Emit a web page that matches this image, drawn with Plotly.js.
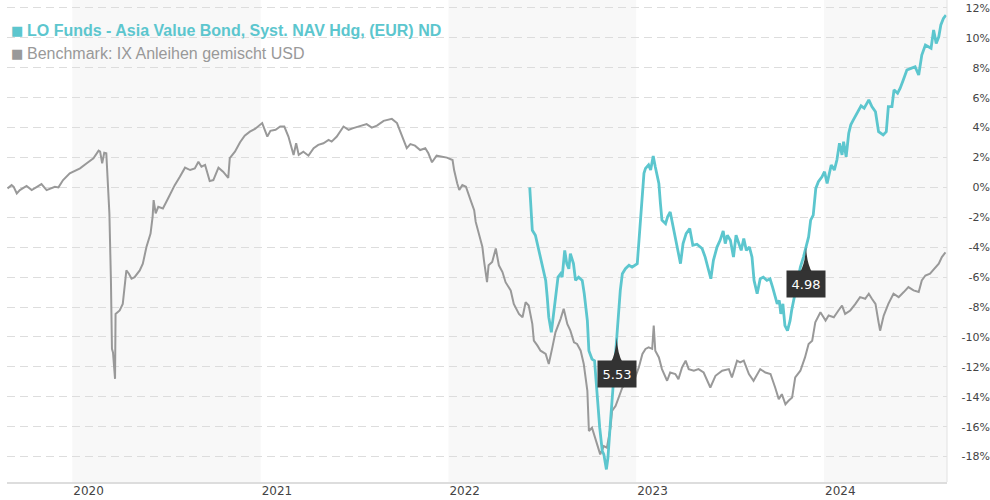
<!DOCTYPE html>
<html>
<head>
<meta charset="utf-8">
<script src="https://cdn.plot.ly/plotly-3.0.1.min.js"></script>
<style>
  html, body { margin: 0; padding: 0; background: #ffffff; }
  #chart { width: 990px; height: 500px; }
</style>
</head>
<body>
<div id="chart"></div>
<script>
// ---------------- DATA ----------------
const fundName = 'LO Funds - Asia Value Bond, Syst. NAV Hdg, (EUR) ND';
const benchName = 'Benchmark: IX Anleihen gemischt USD';

const benchDates = [
  '2019-08-28','2019-09-05','2019-09-09','2019-09-15','2019-09-21','2019-10-04','2019-10-14','2019-11-02','2019-11-12','2019-11-28',
  '2019-12-05','2019-12-14','2019-12-27','2020-01-16','2020-01-29','2020-02-11','2020-02-21','2020-02-24','2020-02-28','2020-03-03',
  '2020-03-07','2020-03-09','2020-03-13','2020-03-16','2020-03-18','2020-03-20','2020-03-24','2020-03-25','2020-03-30','2020-04-02',
  '2020-04-08','2020-04-12','2020-04-15','2020-04-20','2020-04-25','2020-05-01','2020-05-11','2020-05-17','2020-05-24','2020-06-01',
  '2020-06-05','2020-06-07','2020-06-11','2020-06-16','2020-06-25','2020-07-05','2020-07-18','2020-07-28','2020-08-07','2020-08-17',
  '2020-08-26','2020-09-02','2020-09-08','2020-09-15','2020-09-24','2020-10-01','2020-10-11','2020-10-20','2020-10-30','2020-11-02',
  '2020-11-12','2020-11-22','2020-12-01','2020-12-11','2020-12-21','2021-01-04','2021-01-14','2021-01-20','2021-01-30','2021-02-08',
  '2021-02-16','2021-02-24','2021-03-02','2021-03-06','2021-03-11','2021-03-16','2021-03-25','2021-04-04','2021-04-14','2021-04-23',
  '2021-05-03','2021-05-13','2021-05-19','2021-05-29','2021-06-11','2021-06-21','2021-06-30','2021-07-13','2021-07-26','2021-08-05',
  '2021-08-15','2021-08-28','2021-09-13','2021-09-23','2021-09-29','2021-10-06','2021-10-12','2021-10-19','2021-10-28','2021-11-07',
  '2021-11-17','2021-11-23','2021-11-30','2021-12-09','2021-12-19','2021-12-29','2022-01-09','2022-01-12','2022-01-18','2022-01-22',
  '2022-01-28','2022-02-04','2022-02-13','2022-02-20','2022-02-23','2022-03-01','2022-03-08','2022-03-11','2022-03-17','2022-03-20',
  '2022-03-27','2022-04-03','2022-04-09','2022-04-16','2022-04-22','2022-05-02','2022-05-08','2022-05-18','2022-05-25','2022-05-31',
  '2022-06-06','2022-06-13','2022-06-16','2022-06-23','2022-06-29','2022-07-09','2022-07-15','2022-07-22','2022-07-28','2022-08-07',
  '2022-08-13','2022-08-20','2022-08-26','2022-09-02','2022-09-08','2022-09-15','2022-09-21','2022-09-28','2022-10-01','2022-10-07',
  '2022-10-14','2022-10-20','2022-10-23','2022-10-30','2022-11-05','2022-11-12','2022-11-15','2022-11-22','2022-11-28','2022-12-05',
  '2022-12-17','2022-12-30','2023-01-06','2023-01-13','2023-01-19','2023-01-25','2023-02-01','2023-02-04','2023-02-07','2023-02-14',
  '2023-02-20','2023-03-02','2023-03-08','2023-03-18','2023-03-24','2023-03-31','2023-04-07','2023-04-13','2023-04-23','2023-05-02',
  '2023-05-12','2023-05-25','2023-06-04','2023-06-17','2023-06-30','2023-07-06','2023-07-16','2023-07-22','2023-07-29','2023-08-08',
  '2023-08-17','2023-08-30','2023-09-09','2023-09-19','2023-09-28','2023-10-05','2023-10-11','2023-10-18','2023-10-24','2023-10-31',
  '2023-11-06','2023-11-16','2023-11-25','2023-12-02','2023-12-09','2023-12-15','2023-12-25','2024-01-04','2024-01-10','2024-01-20',
  '2024-01-29','2024-02-05','2024-02-11','2024-02-21','2024-03-02','2024-03-11','2024-03-21','2024-03-28','2024-04-03','2024-04-10',
  '2024-04-16','2024-04-19','2024-04-26','2024-05-05','2024-05-15','2024-05-25','2024-06-04','2024-06-13','2024-06-23','2024-07-03',
  '2024-07-09','2024-07-16','2024-07-25','2024-08-04','2024-08-11','2024-08-17','2024-08-24'
];
const benchValues = [
  -0.07, 0.15, 0.04, -0.40, -0.18, 0.10, -0.18, 0.22, -0.18, 0.04,
  0.00, 0.49, 0.94, 1.27, 1.61, 1.95, 2.46, 2.39, 1.61, 2.32,
  2.28, 1.16, -1.74, -6.22, -10.80, -11.03, -12.80, -8.46, -8.35, -8.23,
  -7.79, -6.67, -5.55, -5.77, -6.11, -6.00, -5.55, -5.10, -3.99, -3.09,
  -1.97, -0.85, -1.74, -1.30, -1.41, -0.74, 0.15, 0.71, 1.32, 1.16,
  1.27, 1.72, 1.38, 1.50, 0.42, 0.49, 1.32, 1.05, 0.64, 1.95,
  2.39, 3.02, 3.46, 3.73, 3.91, 4.30, 3.40, 3.78, 3.85, 4.07,
  4.07, 3.40, 2.72, 2.17, 2.95, 2.17, 2.39, 2.12, 2.62, 2.84,
  2.95, 3.17, 3.06, 3.40, 4.07, 3.85, 3.96, 4.07, 4.23, 4.00,
  4.13, 4.45, 4.58, 4.30, 3.73, 3.17, 2.62, 2.89, 2.79, 2.50,
  2.62, 2.28, 1.68, 2.12, 2.05, 1.99, 1.83, 1.16, 0.27, -0.18,
  0.15, 0.04, -0.85, -1.52, -2.31, -3.09, -3.99, -4.88, -6.34, -5.21,
  -4.99, -4.09, -5.21, -5.66, -6.34, -6.89, -7.79, -8.46, -8.68, -7.68,
  -7.90, -9.13, -10.25, -10.58, -10.92, -11.14, -11.81, -10.70, -9.69, -8.79,
  -8.12, -9.13, -9.58, -10.36, -10.47, -10.92, -11.81, -13.60, -16.29, -16.07,
  -16.85, -17.52, -17.85, -17.30, -17.41, -16.07, -14.95, -14.61, -14.05, -13.38,
  -13.00, -12.71, -12.04, -11.14, -10.80, -10.70, -10.80, -9.24, -10.92, -11.37,
  -12.15, -12.93, -12.38, -12.48, -12.82, -12.04, -11.59, -12.15, -12.26, -12.15,
  -12.38, -13.38, -12.60, -12.26, -12.15, -12.71, -11.59, -11.70, -11.59, -12.48,
  -12.93, -12.15, -12.38, -12.48, -13.38, -14.16, -13.83, -14.50, -14.27, -14.05,
  -12.71, -12.26, -11.37, -10.47, -10.25, -9.02, -8.35, -8.91, -8.57, -8.68,
  -8.23, -7.90, -8.46, -8.23, -7.79, -7.34, -7.45, -7.11, -7.45, -7.79,
  -9.02, -9.58, -8.57, -7.79, -7.11, -7.34, -7.00, -6.67, -6.89, -7.00,
  -6.22, -5.89, -5.77, -5.33, -5.10, -4.66, -4.35
];

const fundDates = [
  '2022-06-08','2022-06-13','2022-06-19','2022-06-26','2022-07-02','2022-07-09','2022-07-12','2022-07-15','2022-07-20','2022-07-25',
  '2022-07-30','2022-08-02','2022-08-07','2022-08-10','2022-08-15','2022-08-19','2022-08-23','2022-08-26','2022-09-01','2022-09-05',
  '2022-09-11','2022-09-18','2022-09-22','2022-09-28','2022-10-01','2022-10-07','2022-10-12','2022-10-17','2022-10-22','2022-10-27',
  '2022-10-30','2022-11-04','2022-11-07','2022-11-12','2022-11-17','2022-11-24','2022-11-28','2022-12-01','2022-12-05','2022-12-11',
  '2022-12-18','2022-12-24','2023-01-03','2023-01-06','2023-01-09','2023-01-13','2023-01-16','2023-01-19','2023-01-25','2023-01-29',
  '2023-02-03','2023-02-07','2023-02-14','2023-02-17','2023-02-20','2023-02-27','2023-03-03','2023-03-08','2023-03-11','2023-03-18',
  '2023-03-22','2023-03-28','2023-04-02','2023-04-08','2023-04-15','2023-04-21','2023-04-29','2023-05-09','2023-05-15','2023-05-22',
  '2023-05-26','2023-05-31','2023-06-07','2023-06-13','2023-06-19','2023-06-23','2023-06-27','2023-07-03','2023-07-09','2023-07-14',
  '2023-07-19','2023-07-24','2023-07-29','2023-08-03','2023-08-09','2023-08-14','2023-08-18','2023-08-24','2023-08-30','2023-09-05',
  '2023-09-12','2023-09-18','2023-09-23','2023-09-28','2023-10-02','2023-10-06','2023-10-09','2023-10-13','2023-10-17','2023-10-22',
  '2023-10-27','2023-10-30','2023-11-04','2023-11-16','2023-11-22','2023-11-27','2023-12-02','2023-12-06','2023-12-11','2023-12-16',
  '2023-12-21','2023-12-28','2024-01-02','2024-01-07','2024-01-15','2024-01-21','2024-01-26','2024-01-31','2024-02-05','2024-02-08',
  '2024-02-13','2024-02-18','2024-02-22','2024-02-27','2024-03-05','2024-03-13','2024-03-19','2024-03-28','2024-04-03','2024-04-10',
  '2024-04-16','2024-04-25','2024-05-01','2024-05-05','2024-05-12','2024-05-16','2024-05-23','2024-05-28','2024-06-03','2024-06-10',
  '2024-06-18','2024-06-26','2024-07-03','2024-07-09','2024-07-16','2024-07-22','2024-07-27','2024-08-01','2024-08-06','2024-08-11',
  '2024-08-15','2024-08-20','2024-08-25'
];
const fundValues = [
  0.00, -2.87, -3.20, -4.21, -5.10, -6.22, -7.34, -8.68, -9.69, -8.23,
  -6.89, -6.00, -5.77, -6.00, -4.21, -5.10, -5.44, -4.43, -5.10, -6.22,
  -6.00, -6.22, -7.11, -8.91, -10.92, -11.48, -11.59, -14.05, -16.07, -17.63,
  -17.85, -18.86, -18.08, -15.62, -13.38, -10.03, -8.01, -6.89, -5.77, -5.44,
  -5.21, -5.33, -5.10, -3.76, -1.97, -0.18, 0.94, 1.27, 1.50, 1.16,
  2.10, 1.38, 0.27, -1.07, -2.19, -2.42, -1.97, -1.64, -2.19, -3.31,
  -4.21, -5.10, -3.76, -3.09, -2.75, -3.87, -3.80, -4.09, -4.66, -5.66,
  -6.11, -4.88, -3.99, -3.54, -2.91, -3.76, -3.20, -3.54, -4.66, -3.20,
  -3.76, -4.21, -3.42, -4.21, -3.99, -4.66, -6.22, -7.11, -6.11, -6.00,
  -6.22, -6.11, -6.67, -7.34, -7.79, -7.56, -8.46, -7.79, -9.24, -9.58,
  -8.91, -8.23, -7.34, -5.33, -4.66, -3.99, -3.31, -2.19, -1.86, -0.07,
  0.38, 0.71, 1.05, 0.27, 1.50, 1.16, 1.83, 2.95, 2.17, 3.06,
  2.05, 3.62, 4.18, 4.51, 4.96, 5.45, 5.30, 5.85, 5.40, 5.06,
  3.73, 3.51, 3.73, 5.40, 5.40, 6.52, 6.30, 6.63, 7.18, 7.85,
  7.96, 8.07, 7.51, 8.85, 9.52, 9.40, 9.30, 10.52, 9.63, 10.07,
  10.86, 11.30, 11.52
];

// distribution flags on the fund line
const flagDates = ['2022-11-24', '2023-11-27'];
const flagLabels = ['5.53', '4.98'];

// axis labels
const yearStarts = ['2020-01-01', '2021-01-01', '2022-01-01', '2023-01-01', '2024-01-01'];
const yearLabels = ['2020', '2021', '2022', '2023', '2024'];
const yTickVals = [-18, -16, -14, -12, -10, -8, -6, -4, -2, 0, 2, 4, 6, 8, 10, 12];
const yTickText = ['-18%', '-16%', '-14%', '-12%', '-10%', '-8%', '-6%', '-4%', '-2%', '0%', '2%', '4%', '6%', '8%', '10%', '12%'];

// ---------------- STYLE ----------------
const teal = '#5cc6ce';
const grey = '#999999';
const xRange = ['2019-08-27', '2024-08-27'];
const yRange = [-19.7, 12.53];
const plotRight = 940 / 983;

const traces = [
  {
    x: benchDates, y: benchValues, type: 'scatter', mode: 'lines', name: benchName,
    line: { color: grey, width: 2 }, hoverinfo: 'skip'
  },
  {
    x: fundDates, y: fundValues, type: 'scatter', mode: 'lines', name: fundName,
    line: { color: teal, width: 2.8 }, hoverinfo: 'skip'
  }
];

const shapes = [];
// alternating year bands
for (let i = 0; i < yearStarts.length; i += 2) {
  shapes.push({
    type: 'rect', layer: 'below', xref: 'x', yref: 'paper',
    x0: yearStarts[i], x1: (i + 1 < yearStarts.length) ? yearStarts[i + 1] : xRange[1],
    y0: 0, y1: 1, fillcolor: '#f8f8f8', line: { width: 0 }
  });
}
// right border of plot
shapes.push({
  type: 'line', xref: 'paper', yref: 'paper', x0: plotRight, x1: plotRight, y0: 0, y1: 1,
  line: { color: '#e2e2e2', width: 1 }, layer: 'above'
});

const annotations = [];
// flags
flagDates.forEach((d, i) => {
  const v = fundValues[fundDates.indexOf(d)];
  shapes.push({
    type: 'path', layer: 'above', xref: 'x', yref: 'y',
    xsizemode: 'pixel', ysizemode: 'pixel', xanchor: d, yanchor: v,
    path: 'M0,0 Q-1,-17 -6,-25 L6,-25 Q1,-17 0,0 Z',
    fillcolor: '#333333', line: { width: 0 }
  });
  annotations.push({
    x: d, y: v, xref: 'x', yref: 'y', text: flagLabels[i],
    showarrow: true, ax: 0, ay: 37, arrowcolor: 'rgba(0,0,0,0)', arrowwidth: 0.1,
    bgcolor: '#333333', borderpad: 4, width: 30, height: 18,
    font: { family: 'DejaVu Sans, Verdana, sans-serif', size: 13, color: '#ffffff' }
  });
});

// legend-like title lines
annotations.push(
  { xref: 'paper', yref: 'paper', x: 2 / 983, y: 1 - 30 / 482, xanchor: 'left', yanchor: 'middle',
    text: '■', showarrow: false, font: { family: 'DejaVu Sans, sans-serif', size: 13, color: teal } },
  { xref: 'paper', yref: 'paper', x: 18 / 983, y: 1 - 30 / 482, xanchor: 'left', yanchor: 'middle',
    text: '<b>' + fundName + '</b>', showarrow: false,
    font: { family: 'Liberation Sans, Arial, sans-serif', size: 16, color: teal } },
  { xref: 'paper', yref: 'paper', x: 2 / 983, y: 1 - 53 / 482, xanchor: 'left', yanchor: 'middle',
    text: '■', showarrow: false, font: { family: 'DejaVu Sans, sans-serif', size: 13, color: grey } },
  { xref: 'paper', yref: 'paper', x: 18 / 983, y: 1 - 53 / 482, xanchor: 'left', yanchor: 'middle',
    text: benchName, showarrow: false,
    font: { family: 'Liberation Sans, Arial, sans-serif', size: 16, color: grey } }
);

const layout = {
  width: 990, height: 500,
  margin: { l: 7, r: 0, t: 0, b: 18, pad: 0 },
  paper_bgcolor: '#ffffff', plot_bgcolor: '#ffffff',
  showlegend: false,
  hovermode: false,
  xaxis: {
    type: 'date', range: xRange, domain: [0, plotRight],
    tickvals: yearStarts, ticktext: yearLabels,
    ticklabelposition: 'outside right',
    ticklabelstandoff: -3,
    showgrid: false, zeroline: false,
    showline: true, linecolor: '#dddddd', linewidth: 2,
    ticks: '',
    tickfont: { family: 'DejaVu Sans, Verdana, sans-serif', size: 12, color: '#444444' },
    fixedrange: true
  },
  yaxis: {
    range: yRange, side: 'left', anchor: 'free', position: 1,
    tickvals: yTickVals, ticktext: yTickText,
    showgrid: true, gridcolor: '#dddddd', gridwidth: 1, griddash: '8px,5px',
    zeroline: false, showline: false, ticks: '',
    tickfont: { family: 'DejaVu Sans, Verdana, sans-serif', size: 11, color: '#444444' },
    fixedrange: true
  },
  shapes: shapes,
  annotations: annotations
};

Plotly.newPlot('chart', traces, layout, { displayModeBar: false, staticPlot: true });
</script>
</body>
</html>
